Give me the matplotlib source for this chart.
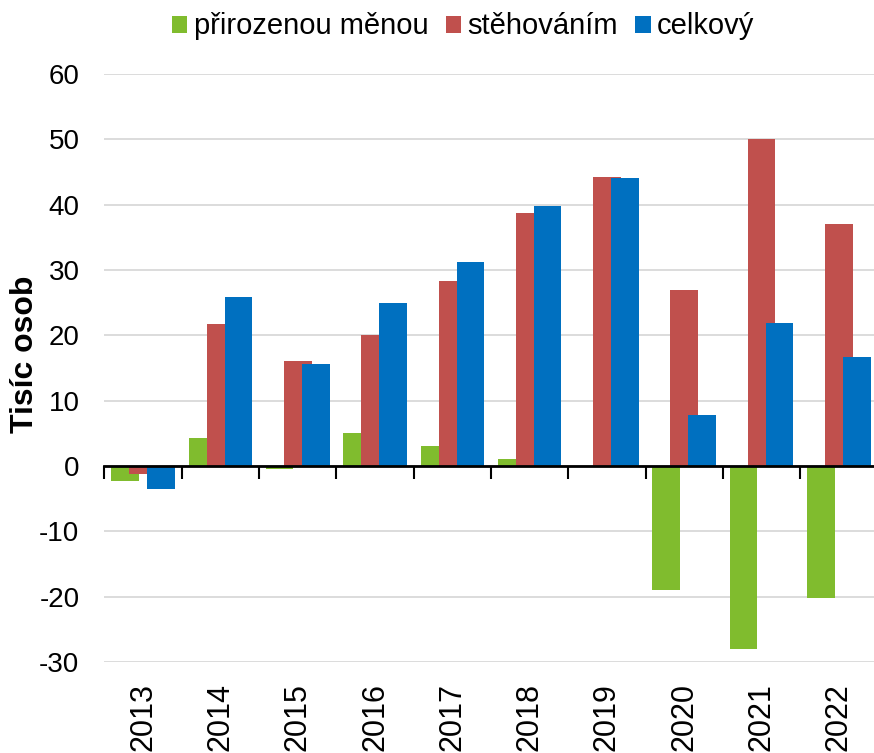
import numpy as np
import matplotlib.pyplot as plt
from matplotlib.patches import Patch

plt.rcParams["font.family"] = ["Liberation Sans", "DejaVu Sans"]
plt.rcParams["axes.unicode_minus"] = False

years = ["2013", "2014", "2015", "2016", "2017", "2018", "2019", "2020", "2021", "2022"]
prirozenou = [-2.3, 4.3, -0.4, 5.0, 3.0, 1.1, -0.1, -19.0, -28.0, -20.2]
stehovanim = [-1.2, 21.7, 16.1, 20.1, 28.3, 38.7, 44.3, 27.0, 50.1, 37.1]
celkovy = [-3.5, 25.9, 15.6, 25.0, 31.2, 39.8, 44.1, 7.8, 21.9, 16.7]

labels = ["přirozenou měnou", "stěhováním", "celkový"]
colors = ["#80bc2e", "#c0504d", "#0070c0"]

fig = plt.figure(figsize=(8.74, 7.53), dpi=100)
ax = fig.add_axes([0.1195, 0.1208, 0.8845, 0.7809])

x = np.arange(len(years))
w = 0.357
step = 0.233
for i, (vals, c) in enumerate(zip([prirozenou, stehovanim, celkovy], colors)):
    ax.bar(x + (i - 1) * step, vals, width=w, color=c, zorder=2)

ax.set_xlim(-0.5, len(years) - 0.5)
ax.set_ylim(-30, 60)
ax.set_yticks(np.arange(-30, 61, 10))
ax.tick_params(axis="y", length=0, pad=18, labelsize=20)
ax.yaxis.grid(True, color="#d9d9d9", lw=1.3, zorder=0)
ax.set_axisbelow(True)

for s in ["left", "right", "top"]:
    ax.spines[s].set_visible(False)
ax.spines["bottom"].set_position(("data", 0))
ax.spines["bottom"].set_linewidth(2)
ax.spines["bottom"].set_zorder(3)
ax.set_xticks(np.arange(-0.5, len(years), 1))
ax.tick_params(axis="x", length=9, width=1.5, direction="out", labelbottom=False)

# year labels sit under the plot, not on the zero line
sec = ax.secondary_xaxis(0)
sec.set_xticks(x, labels=years, rotation=90, fontsize=22)
sec.tick_params(length=0, pad=15)
sec.spines["bottom"].set_visible(False)

ax.set_ylabel("Tisíc osob", fontsize=23, fontweight="bold")
ax.yaxis.set_label_coords(-0.083, 0.524)

handles = [Patch(facecolor=c, edgecolor="none") for c in colors]
fig.legend(handles, labels, loc="center", bbox_to_anchor=(0.53, 0.965), ncol=3,
           frameon=False, fontsize=21, handlelength=0.52, handleheight=0.52,
           handletextpad=0.22, columnspacing=0.6, borderpad=0)

fig.savefig("out.png", dpi=100)
